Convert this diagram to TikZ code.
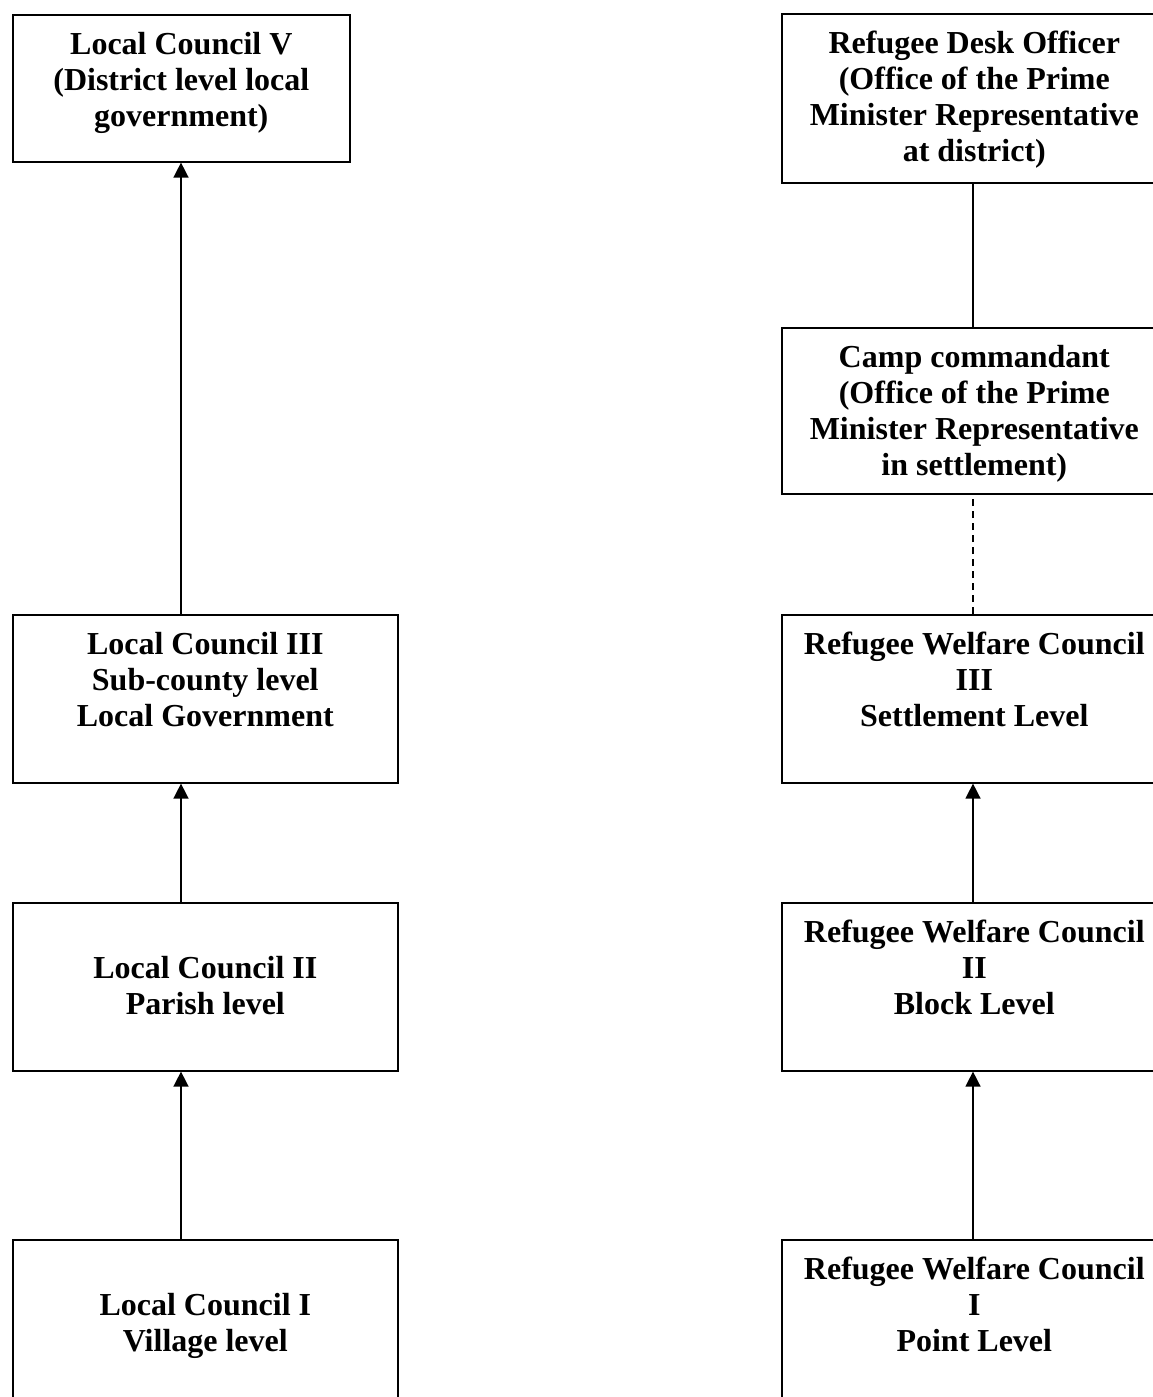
\documentclass[tikz,border=0pt]{standalone}
\usepackage{fontspec}
\setmainfont{Liberation Serif}
\usetikzlibrary{arrows.meta}
\begin{document}
\begin{tikzpicture}[x=1pt,y=-1pt,
  box/.style={draw=black, line width=1.6pt, rectangle, inner sep=0pt, anchor=north west},
  lbl/.style={align=center, inner sep=0pt, anchor=north, font=\fontsize{32}{36}\selectfont\bfseries},
  conn/.style={line width=1.5pt},
  arr/.style={line width=1.5pt, -{Triangle[width=15pt,length=15pt]}},
  dashline/.style={line width=1.5pt, dash pattern=on 7pt off 5pt}]
\useasboundingbox (0,0) rectangle (1152,1397);
\fill[white] (0,0) rectangle (1152,1397);
% left column
\node[box, minimum width=337pt, minimum height=147pt] (lcv) at (12,14) {};
\node[box, minimum width=385pt, minimum height=168pt] (lciii) at (12,614) {};
\node[box, minimum width=385pt, minimum height=168pt] (lcii) at (12,902) {};
\node[box, minimum width=385pt, minimum height=190pt] (lci) at (12,1239) {};
% right column
\node[box, minimum width=385pt, minimum height=169pt] (rdo) at (781,13) {};
\node[box, minimum width=385pt, minimum height=166pt] (camp) at (781,327) {};
\node[box, minimum width=385pt, minimum height=168pt] (rwciii) at (781,614) {};
\node[box, minimum width=385pt, minimum height=168pt] (rwcii) at (781,902) {};
\node[box, minimum width=385pt, minimum height=190pt] (rwci) at (781,1239) {};
% texts
\node[lbl] (tlcv) at ([yshift=-18pt]lcv.north) {Local Council V\\(District level local\\government)};
\node[lbl] (tlciii) at ([yshift=-18pt]lciii.north) {Local Council III\\Sub-county level\\Local Government};
\node[lbl] (tlcii) at ([yshift=-54pt]lcii.north) {Local Council II\\Parish level};
\node[lbl] (tlci) at ([yshift=-54pt]lci.north) {Local Council I\\Village level};
\node[lbl] (trdo) at ([yshift=-18pt]rdo.north) {Refugee Desk Officer\\(Office of the Prime\\Minister Representative\\at district)};
\node[lbl] (tcamp) at ([yshift=-18pt]camp.north) {Camp commandant\\(Office of the Prime\\Minister Representative\\in settlement)};
\node[lbl] (trwciii) at ([yshift=-18pt]rwciii.north) {Refugee Welfare Council\\III\\Settlement Level};
\node[lbl] (trwcii) at ([yshift=-18pt]rwcii.north) {Refugee Welfare Council\\II\\Block Level};
\node[lbl] (trwci) at ([yshift=-18pt]rwci.north) {Refugee Welfare Council\\I\\Point Level};
% connectors left
\coordinate (lx) at (181,0);
\draw[arr] (lciii.north -| lx) -- (lcv.south -| lx);
\draw[arr] (lcii.north -| lx) -- (lciii.south -| lx);
\draw[arr] (lci.north -| lx) -- (lcii.south -| lx);
% connectors right
\coordinate (rx) at (973,0);
\draw[conn] (camp.north -| rx) -- (rdo.south -| rx);
\draw[dashline] (rwciii.north -| rx) -- (camp.south -| rx);
\draw[arr] (rwcii.north -| rx) -- (rwciii.south -| rx);
\draw[arr] (rwci.north -| rx) -- (rwcii.south -| rx);
\end{tikzpicture}
\end{document}
